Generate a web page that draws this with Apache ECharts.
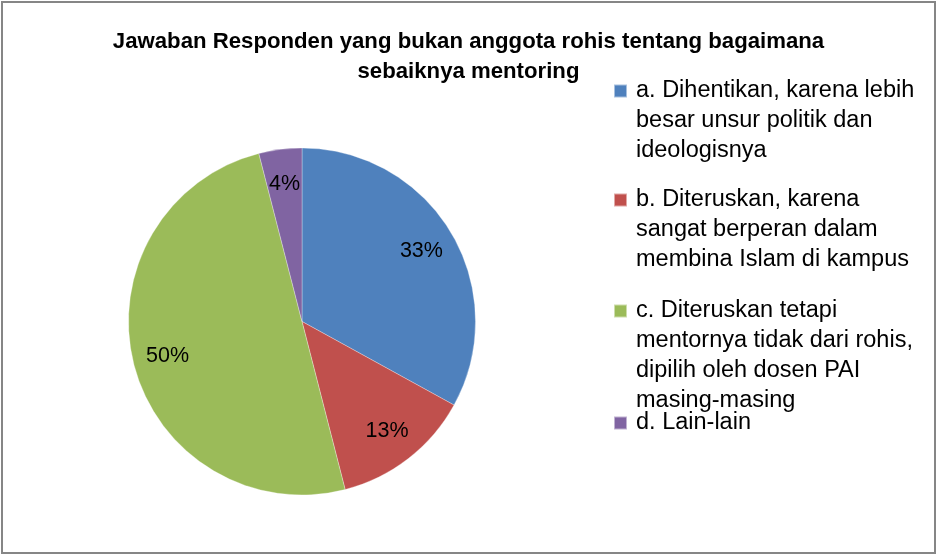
<!DOCTYPE html>
<html>
<head>
<meta charset="utf-8">
<script src="https://cdn.jsdelivr.net/npm/echarts@6/dist/echarts.min.js"></script>
<style>
html,body{margin:0;padding:0;background:#fff;}
#chart{width:937px;height:557px;}
</style>
</head>
<body>
<div id="chart"></div>
<script>
var titleText = 'Jawaban Responden yang bukan anggota rohis tentang bagaimana\nsebaiknya mentoring';
var categories = [
  'a. Dihentikan, karena lebih besar unsur politik dan ideologisnya',
  'b. Diteruskan, karena sangat berperan dalam membina Islam di kampus',
  'c. Diteruskan tetapi mentornya tidak dari rohis, dipilih oleh dosen PAI masing-masing',
  'd. Lain-lain'
];
var values = [33, 13, 50, 4];
var colors = ['#4F81BD', '#C0504D', '#9BBB59', '#8064A2'];

// layout only
var FONT = 'Liberation Sans';
var legendLines = [3, 3, 4, 1];
var legendIconCenters = [91, 200, 311, 423];
var LH = 30;

var data = categories.map(function (c, i) {
  return { name: c, value: values[i], itemStyle: { color: colors[i] } };
});

function repeatNL(k) { var s = ''; for (var j = 0; j < k; j++) s += '\n'; return s; }

var legends = categories.map(function (c, i) {
  var n = legendLines[i];
  return {
    data: [c],
    left: 613,
    top: legendIconCenters[i] - (n * LH - LH / 2),
    padding: 0,
    orient: 'vertical',
    icon: 'path://M0,0H13V13H0Z M17,0L17.01,0',
    symbolKeepAspect: false,
    itemWidth: 17,
    itemHeight: 13,
    selectedMode: false,
    formatter: function (name) { return repeatNL(n - 1) + name; },
    textStyle: {
      fontFamily: FONT,
      fontSize: 23.5,
      color: '#000',
      lineHeight: LH,
      width: 290,
      overflow: 'break'
    }
  };
});

var chart = echarts.init(document.getElementById('chart'), null, { renderer: 'canvas' });
chart.setOption({
  backgroundColor: '#fff',
  animation: false,
  title: {
    text: titleText,
    left: 'center',
    top: 27,
    padding: 0,
    textStyle: {
      fontFamily: FONT,
      fontWeight: 'bold',
      fontSize: 22.2,
      lineHeight: 30,
      color: '#000'
    }
  },
  legend: legends,
  graphic: [{
    type: 'rect',
    shape: { x: 2, y: 2, width: 933, height: 551 },
    style: { fill: 'none', stroke: '#868686', lineWidth: 2 },
    silent: true,
    z: 100
  }],
  series: [{
    type: 'pie',
    center: [302, 321.5],
    radius: [0, 173.5],
    startAngle: 90,
    clockwise: true,
    label: { show: false },
    labelLine: { show: false },
    emphasis: { disabled: true },
    silent: true,
    itemStyle: { borderColor: 'rgba(255,255,255,0.5)', borderWidth: 0.6 },
    data: data
  }, {
    type: 'pie',
    center: [302, 321.5],
    radius: [98, 173.5],
    startAngle: 90,
    clockwise: true,
    silent: true,
    emphasis: { disabled: true },
    legendHoverLink: false,
    itemStyle: { color: 'rgba(0,0,0,0)' },
    label: {
      show: true,
      position: 'inside',
      formatter: '{c}%',
      fontFamily: FONT,
      fontSize: 21.5,
      color: '#000'
    },
    labelLine: { show: false },
    data: categories.map(function (c, i) { return { name: c, value: values[i] }; })
  }]
});
</script>
</body>
</html>
